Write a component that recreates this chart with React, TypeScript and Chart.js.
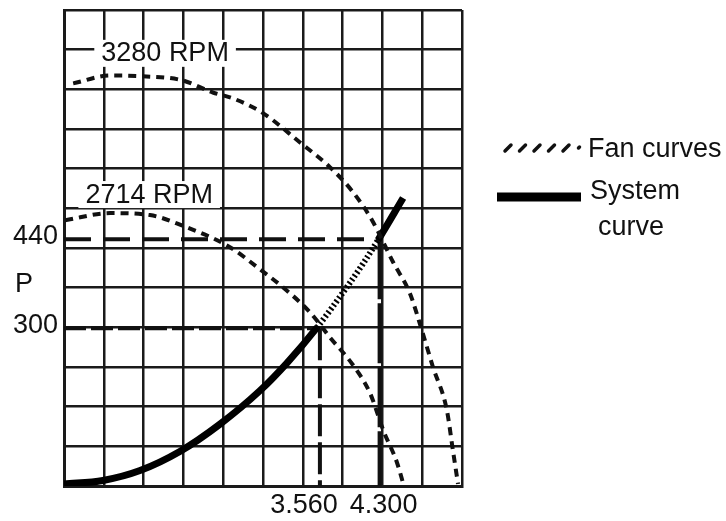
import React, { useEffect, useRef } from "react";
import { Chart, registerables } from "chart.js";

Chart.register(...registerables);

// Values are in grid units of the chart paper (10 columns x 12 rows)
const fan3280X = [0.23, 1.16, 1.98, 2.96, 3.74, 4.25, 5.0, 5.93, 6.68, 7.26, 7.74, 8.27, 8.69, 8.99, 9.27, 9.62, 9.77, 9.9];
const fan3280Y = [10.15, 10.35, 10.33, 10.23, 9.92, 9.77, 9.4, 8.66, 8.04, 7.41, 6.7, 5.64, 4.86, 3.93, 3.0, 1.91, 0.91, 0.05];

const fan2714X = [0.03, 1.16, 2.16, 2.96, 4.17, 4.85, 5.5, 6.18, 6.68, 7.26, 7.69, 8.02, 8.37, 8.54];
const fan2714Y = [6.7, 6.88, 6.83, 6.57, 6.02, 5.52, 5.01, 4.38, 3.75, 3.05, 2.34, 1.41, 0.58, 0.0];

const systemX = [0, 0.98, 1.91, 2.91, 3.92, 4.92, 5.6, 6.36, 7.11, 7.51, 7.89, 8.52];
const systemY = [0.05, 0.14, 0.39, 0.87, 1.56, 2.4, 3.1, 4.0, 5.02, 5.6, 6.2, 7.26];

// Operating points (grid units) and their tick labels
const pointX = [6.43, 7.93];
const pointXLabels = ["3.560", "4.300"];
const pointY = [6.22, 3.98];
const pointYLabels = ["440", "300"];

const rpmLabels = ["3280 RPM", "2714 RPM"];
const rpmLabelX = [2.54, 2.14];
const rpmLabelY = [10.92, 7.36];

const legendLabels = ["Fan curves", "System curve"];

const FONT = '"Liberation Sans", Arial, sans-serif';

const zip = (xs: number[], ys: number[]) => xs.map((x, i) => ({ x, y: ys[i] }));

const overlayPlugin = {
  id: "overlay",
  beforeDatasetsDraw(chart: any) {
    const ctx = chart.ctx;
    const xs = chart.scales.x;
    const ys = chart.scales.y;
    ctx.save();
    ctx.font = `27px ${FONT}`;
    ctx.textAlign = "center";
    ctx.textBaseline = "middle";
    rpmLabels.forEach((t, i) => {
      const px = xs.getPixelForValue(rpmLabelX[i]);
      const py = ys.getPixelForValue(rpmLabelY[i]);
      const w = ctx.measureText(t).width;
      ctx.fillStyle = "#fff";
      ctx.fillRect(px - w / 2 - 7, py - 13, w + 14, 27);
      ctx.fillStyle = "#111";
      ctx.fillText(t, px, py + 1);
    });
    ctx.restore();
  },
  afterDraw(chart: any) {
    const ctx = chart.ctx;
    const xs = chart.scales.x;
    const ys = chart.scales.y;
    const area = chart.chartArea;
    ctx.save();
    ctx.fillStyle = "#111";
    ctx.font = `27px ${FONT}`;
    // y labels
    ctx.textAlign = "right";
    ctx.textBaseline = "middle";
    pointY.forEach((v, i) => {
      ctx.fillText(pointYLabels[i], area.left - 6, ys.getPixelForValue(v) - 3);
    });
    ctx.textAlign = "center";
    ctx.fillText("P", 24, ys.getPixelForValue((pointY[0] + pointY[1]) / 2) + 1);
    // x labels
    const xOff = [-16, 4];
    pointX.forEach((v, i) => {
      ctx.fillText(pointXLabels[i], xs.getPixelForValue(v) + xOff[i], area.bottom + 20);
    });
    // legend
    const fanDs = chart.data.datasets[0];
    const sysDs = chart.data.datasets[2];
    const lx = 505;
    const ly1 = 148;
    ctx.strokeStyle = fanDs.borderColor;
    ctx.lineWidth = 3.5;
    ctx.lineCap = "round";
    for (let k = 0; k < 6; k++) {
      const x0 = lx + k * 14.5;
      ctx.beginPath();
      if (k === 5) {
        ctx.moveTo(x0 + 1, ly1);
        ctx.lineTo(x0 + 2, ly1 - 1);
      } else {
        ctx.moveTo(x0, ly1 + 3);
        ctx.lineTo(x0 + 6, ly1 - 3);
      }
      ctx.stroke();
    }
    ctx.textAlign = "left";
    ctx.textBaseline = "alphabetic";
    ctx.fillText(legendLabels[0], 588, 157);
    ctx.strokeStyle = sysDs.borderColor;
    ctx.lineWidth = 9;
    ctx.lineCap = "butt";
    ctx.beginPath();
    ctx.moveTo(497, 197);
    ctx.lineTo(581, 197);
    ctx.stroke();
    const parts = legendLabels[1].split(" ");
    ctx.fillText(parts[0], 590, 199);
    ctx.fillText(parts[1], 598, 235);
    ctx.restore();
  },
};

export default function App() {
  const ref = useRef<HTMLCanvasElement | null>(null);
  useEffect(() => {
    if (!ref.current) return;
    const refLineStyle = { borderColor: "#111", pointRadius: 0, fill: false, tension: 0 };
    const inHatch = (c: any) => c.p0.parsed.x >= 6.3 && c.p1.parsed.x <= 7.9;
    const chart = new Chart(ref.current, {
      type: "line",
      data: {
        datasets: [
          {
            label: rpmLabels[0],
            data: zip(fan3280X, fan3280Y),
            borderColor: "#111",
            borderWidth: 4,
            borderDash: [8, 6],
            pointRadius: 0,
            cubicInterpolationMode: "monotone",
          },
          {
            label: rpmLabels[1],
            data: zip(fan2714X, fan2714Y),
            borderColor: "#111",
            borderWidth: 4,
            borderDash: [8, 6],
            pointRadius: 0,
            cubicInterpolationMode: "monotone",
          },
          {
            label: legendLabels[1],
            data: zip(systemX, systemY),
            borderColor: "#000",
            borderWidth: 7,
            pointRadius: 0,
            cubicInterpolationMode: "monotone",
            segment: {
              borderDash: (c: any) => (inHatch(c) ? [2, 2.5] : undefined),
              borderWidth: (c: any) => (inHatch(c) ? 6 : undefined),
            },
          },
          {
            label: "440",
            data: [
              { x: 0, y: pointY[0] },
              { x: pointX[1], y: pointY[0] },
            ],
            borderWidth: 4,
            borderDash: [27, 12],
            ...refLineStyle,
          },
          {
            label: "4.300",
            data: [
              { x: pointX[1], y: pointY[0] },
              { x: pointX[1], y: 0 },
            ],
            borderWidth: 4,
            borderDash: [60, 4],
            ...refLineStyle,
          },
          {
            label: "300",
            data: [
              { x: 0, y: pointY[1] },
              { x: pointX[0], y: pointY[1] },
            ],
            borderWidth: 4,
            borderDash: [22, 5],
            ...refLineStyle,
          },
          {
            label: "3.560",
            data: [
              { x: pointX[0], y: pointY[1] },
              { x: pointX[0], y: 0 },
            ],
            borderWidth: 4,
            borderDash: [32, 6],
            ...refLineStyle,
          },
        ],
      },
      options: {
        responsive: false,
        animation: false,
        parsing: false as any,
        layout: { padding: { left: 64, top: 10, right: 264, bottom: 35 } },
        plugins: { legend: { display: false }, tooltip: { enabled: false } },
        scales: {
          x: {
            type: "linear",
            min: 0,
            max: 10,
            ticks: { display: false, stepSize: 1 },
            grid: { color: "#1a1a1a", lineWidth: 2.5, drawTicks: false },
            border: { color: "#1a1a1a", width: 3 },
          },
          y: {
            type: "linear",
            min: 0,
            max: 12,
            ticks: { display: false, stepSize: 1 },
            grid: { color: "#1a1a1a", lineWidth: 2.5, drawTicks: false },
            border: { color: "#1a1a1a", width: 3 },
          },
        },
      },
      plugins: [overlayPlugin],
    });
    return () => chart.destroy();
  }, []);
  return (
    <div style={{ position: "fixed", left: 0, top: 0, width: 726, height: 521, background: "#fff" }}>
      <canvas ref={ref} width={726} height={521} style={{ display: "block" }} />
    </div>
  );
}
